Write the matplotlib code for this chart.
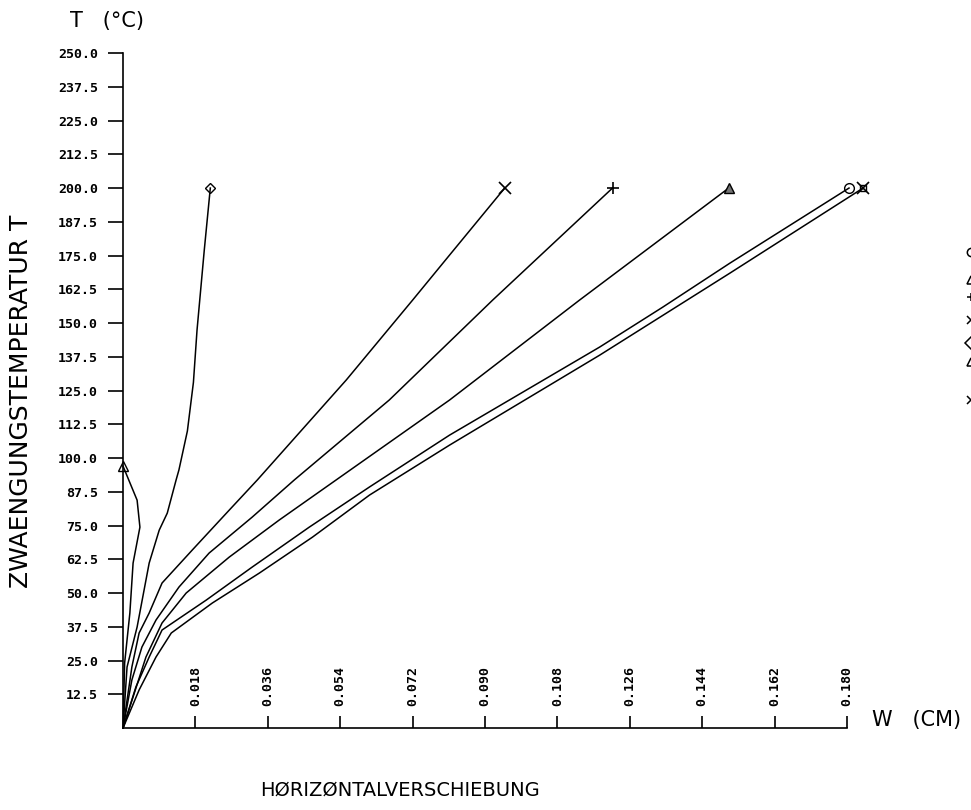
import numpy as np
import matplotlib
matplotlib.use('Agg')
import matplotlib.pyplot as plt

# displacement W (cm) and temperature T (deg C)
w_a = [0.0, 0.0004, 0.0017, 0.0025, 0.0042, 0.0035, 0.0]
t_a = [0.0, 24.1, 42.6, 61.1, 74.4, 84.4, 97.0]

w_d = [0.0, 0.0010, 0.0035, 0.0065, 0.0090, 0.0110, 0.0132, 0.0139, 0.0160, 0.0175, 0.0184, 0.0202, 0.0217]
t_d = [0.0, 22.6, 37.4, 61.1, 73.3, 79.6, 91.9, 95.6, 110.0, 128.0, 147.4, 177.0, 200.0]

w_x = [0.0, 0.0022, 0.0040, 0.0065, 0.0097, 0.0172, 0.0264, 0.0334, 0.0555, 0.0720, 0.0812, 0.0949]
t_x = [0.0, 22.6, 35.2, 42.6, 53.7, 65.9, 80.7, 91.9, 128.9, 158.5, 175.2, 200.0]

w_p = [0.0, 0.0022, 0.0047, 0.0082, 0.0139, 0.0214, 0.0321, 0.0426, 0.0662, 0.0919, 0.1217]
t_p = [0.0, 17.8, 30.0, 40.0, 52.2, 64.8, 78.1, 91.9, 121.5, 158.5, 200.0]

w_t = [0.0, 0.0057, 0.0097, 0.0157, 0.0264, 0.0388, 0.0530, 0.0812, 0.1135, 0.1506]
t_t = [0.0, 26.3, 38.9, 50.0, 63.3, 77.0, 91.9, 121.5, 158.5, 200.0]

w_o = [0.0, 0.0032, 0.0065, 0.0097, 0.0207, 0.0321, 0.0463, 0.0613, 0.0812, 0.1185, 0.1342, 0.1509, 0.1805]
t_o = [0.0, 15.2, 26.3, 36.3, 47.4, 59.6, 74.4, 89.3, 108.5, 141.1, 155.9, 172.2, 200.0]

w_b = [0.0, 0.0040, 0.0082, 0.0120, 0.0222, 0.0339, 0.0471, 0.0613, 0.0812, 0.1185, 0.1509, 0.1840]
t_b = [0.0, 14.1, 26.3, 35.2, 46.3, 57.4, 70.7, 86.3, 104.8, 138.1, 168.5, 200.0]

y_ticks = np.arange(12.5, 250.1, 12.5)
x_ticks = [0.018, 0.036, 0.054, 0.072, 0.090, 0.108, 0.126, 0.144, 0.162, 0.180]

fig = plt.figure(figsize=(9.71, 8.10), dpi=100)
ax = fig.add_axes([0.1267, 0.1012, 0.7456, 0.8333])

lw = 1.1
ms = 7
ax.plot(w_a, t_a, color='k', lw=lw, clip_on=False)
ax.plot(w_a[-1], t_a[-1], marker='^', ms=ms, mfc='none', mec='k', clip_on=False)
ax.plot(w_d, t_d, color='k', lw=lw)
ax.plot(w_d[-1], t_d[-1], marker='D', ms=5, mfc='none', mec='k')
ax.plot(w_x, t_x, color='k', lw=lw)
ax.plot(w_x[-1], t_x[-1], marker='x', ms=ms + 1, mec='k', mew=1.2)
ax.plot(w_p, t_p, color='k', lw=lw)
ax.plot(w_p[-1], t_p[-1], marker='+', ms=ms + 1, mec='k', mew=1.2)
ax.plot(w_t, t_t, color='k', lw=lw)
ax.plot(w_t[-1], t_t[-1], marker='^', ms=ms, mfc='0.45', mec='k')
ax.plot(w_o, t_o, color='k', lw=lw, clip_on=False)
ax.plot(w_o[-1], t_o[-1], marker='o', ms=ms, mfc='none', mec='k', clip_on=False)
ax.plot(w_b, t_b, color='k', lw=lw, clip_on=False)
ax.plot(w_b[-1], t_b[-1], marker='s', ms=5, mfc='none', mec='k', clip_on=False)
ax.plot(w_b[-1], t_b[-1], marker='x', ms=ms + 1, mec='k', mew=1.2, clip_on=False)

ax.set_xlim(0, 0.18)
ax.set_ylim(0, 250)
for s in ['top', 'right']:
    ax.spines[s].set_visible(False)
for s in ['left', 'bottom']:
    ax.spines[s].set_linewidth(1.2)

tick_font = dict(family='DejaVu Sans Mono', weight='bold', size=9.5)
ax.set_yticks(y_ticks)
ax.set_yticklabels(['%.1f' % v for v in y_ticks], **tick_font)
ax.tick_params(axis='y', direction='out', length=11, width=1.2, pad=7)

ax.set_xticks(x_ticks)
ax.set_xticklabels([])
ax.tick_params(axis='x', direction='in', length=9, width=1.2)
for v in x_ticks:
    ax.annotate('%.3f' % v, xy=(v, 0), xycoords=('data', 'axes fraction'),
                xytext=(0, 16), textcoords='offset points', rotation=90,
                ha='center', va='bottom', **tick_font)

lab = dict(family='DejaVu Sans', color='k')
fig.text(0.072, 0.974, 'T   (°C)', fontsize=15, ha='left', va='center', **lab)
fig.text(0.0215, 0.505, 'ZWAENGUNGSTEMPERATUR T', fontsize=18, rotation=90,
         ha='center', va='center', **lab)
fig.text(0.898, 0.111, 'W   (CM)', fontsize=15, ha='left', va='center', **lab)
fig.text(0.268, 0.025, 'HØRIZØNTALVERSCHIEBUNG', fontsize=14, ha='left',
         va='center', **lab)

# legend symbols at the right edge (cut off in the original)
leg_y = [252, 280, 297, 320, 343, 362, 400]
leg_m = ['o', '^', '+', 'x', 'D', '^', 'x']
for y, m in zip(leg_y, leg_m):
    fig.lines.append(plt.Line2D([0.9995], [1 - y / 810], transform=fig.transFigure,
                                marker=m, ms=6, mfc='none', mec='k', mew=1.1))

fig.savefig('out.png', dpi=100)
